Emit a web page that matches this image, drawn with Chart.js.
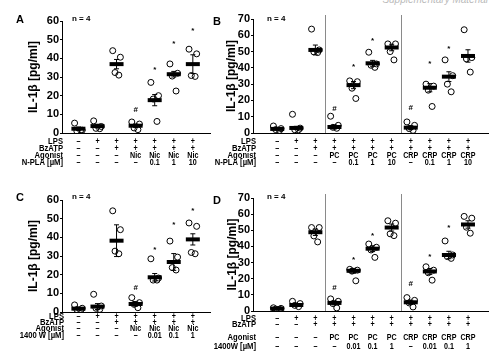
<!DOCTYPE html>
<html lang="en">
<head>
<meta charset="UTF-8">
<title>IL-1beta release</title>
<script src="https://cdn.jsdelivr.net/npm/chart.js"></script>
<style>
  body { margin: 0; background: #fff; font-family: "Liberation Sans", Arial, sans-serif; }
  #wrap { position: relative; width: 500px; height: 363px; overflow: hidden; }
  canvas { position: absolute; }
  .letter { position: absolute; font-weight: bold; font-size: 11px; }
  .n { position: absolute; font-size: 8px; font-weight: bold; }
  #supp { position: absolute; right: 12px; top: -6px; font-size: 10px; font-style: italic; color: #bbb; }
</style>
</head>
<body>
<div id="wrap">
  <div id="supp">Supplementary Material</div>
  <canvas id="chartA" width="250" height="180" style="left:0;top:0"></canvas>
  <canvas id="chartB" width="295" height="180" style="left:205px;top:0"></canvas>
  <canvas id="chartC" width="250" height="183" style="left:0;top:180px"></canvas>
  <canvas id="chartD" width="295" height="183" style="left:205px;top:180px"></canvas>
  <div class="letter" style="left:16px;top:13px">A</div>
  <div class="letter" style="left:213px;top:15px">B</div>
  <div class="letter" style="left:16px;top:191px">C</div>
  <div class="letter" style="left:213px;top:194px">D</div>
  <div class="n" style="left:72px;top:14px">n = 4</div>
  <div class="n" style="left:267px;top:14px">n = 4</div>
  <div class="n" style="left:72px;top:192px">n = 4</div>
  <div class="n" style="left:267px;top:192px">n = 4</div>
</div>
<script>
  // ---- panel A ----
  const rowsA = ['LPS', 'BzATP', 'Agonist', 'N-PLA [µM]'];
  const tableA = [
    ['–', '+', '+', '+', '+', '+', '+'],
    ['–', '–', '+', '+', '+', '+', '+'],
    ['–', '–', '–', 'Nic', 'Nic', 'Nic', 'Nic'],
    ['–', '–', '–', '–', '0.1', '1', '10']
  ];
  const meansA = [2.3, 3.7, 36.9, 3.9, 17.6, 31.5, 36.9];
  const errorsA = [0.9, 1.0, 2.5, 0.9, 3.0, 1.5, 5.0];
  const pointsA = [
    [5.3, 1.5, 1.0, 1.5], [6.5, 3.5, 2.5, 2.3], [44.1, 40.6, 32.4, 31.0],
    [5.9, 4.8, 2.7, 1.8], [27.1, 20.0, 18.2, 6.2], [37.0, 32.0, 30.5, 22.5],
    [44.9, 42.4, 30.8, 30.3]
  ];
  const marksA = [null, null, null, ['#', 12.5], ['*', 33.8], ['*', 47.7], ['*', 54.7]];

  // ---- panel B ----
  const rowsB = ['LPS', 'BzATP', 'Agonist', 'N-PLA [µM]'];
  const tableB = [
    ['–', '+', '+', '+', '+', '+', '+', '+', '+', '+', '+'],
    ['–', '–', '+', '+', '+', '+', '+', '+', '+', '+', '+'],
    ['–', '–', '–', 'PC', 'PC', 'PC', 'PC', 'CRP', 'CRP', 'CRP', 'CRP'],
    ['–', '–', '–', '–', '0.1', '1', '10', '–', '0.1', '1', '10']
  ];
  const meansB = [2.5, 3.1, 51.0, 3.7, 29.4, 42.8, 52.5, 3.3, 27.8, 34.6, 47.3];
  const errorsB = [0.6, 1.0, 3.0, 1.2, 2.2, 1.8, 2.0, 1.2, 2.5, 3.0, 3.8];
  const pointsB = [
    [4.3, 2.7, 2.1, 1.6], [11.5, 3.0, 2.0, 2.0], [63.8, 51.0, 49.8, 49.4],
    [10.3, 4.7, 3.5, 2.9], [32.0, 31.5, 27.5, 21.2], [49.6, 42.4, 41.6, 40.3],
    [54.7, 54.7, 50.0, 44.9], [6.8, 4.7, 2.7, 1.6], [30.0, 28.8, 26.3, 16.3],
    [44.9, 35.2, 30.0, 25.3], [63.4, 46.3, 45.5, 37.4]
  ];
  const marksB = [null, null, null, ['#', 14.8], ['*', 40.7], ['*', 56.8], null,
    ['#', 15.4], ['*', 42.4], ['*', 51.4], null];

  // ---- panel C ----
  const rowsC = ['LPS', 'BzATP', 'Agonist', '1400 W [µM]'];
  const tableC = [
    ['–', '+', '+', '+', '+', '+', '+'],
    ['–', '–', '+', '+', '+', '+', '+'],
    ['–', '–', '–', 'Nic', 'Nic', 'Nic', 'Nic'],
    ['–', '–', '–', '–', '0.01', '0.1', '1']
  ];
  const meansC = [1.8, 2.9, 38.2, 4.3, 18.6, 26.8, 38.9];
  const errorsC = [0.7, 1.6, 8.5, 1.2, 2.0, 4.5, 3.0];
  const pointsC = [
    [3.8, 2.0, 1.3, 0.9], [9.5, 3.2, 2.0, 1.4], [54.2, 44.1, 32.6, 31.2],
    [7.7, 5.0, 4.1, 2.3], [28.5, 18.2, 17.1, 17.1], [38.0, 29.4, 23.8, 22.5],
    [47.7, 45.9, 31.9, 31.2]
  ];
  const marksC = [null, null, null, ['#', 12.8], ['*', 33.3], ['*', 46.8], ['*', 54.2]];

  // ---- panel D ----
  const rowsD = ['LPS', 'BzATP', 'Agonist', '1400W [µM]'];
  const tableD = [
    ['–', '+', '+', '+', '+', '+', '+', '+', '+', '+', '+'],
    ['–', '–', '+', '+', '+', '+', '+', '+', '+', '+', '+'],
    ['–', '–', '–', 'PC', 'PC', 'PC', 'PC', 'CRP', 'CRP', 'CRP', 'CRP'],
    ['–', '–', '–', '–', '0.01', '0.1', '1', '–', '0.01', '0.1', '1']
  ];
  const meansD = [1.5, 3.7, 48.8, 5.0, 24.9, 38.6, 51.7, 5.4, 24.5, 34.7, 53.6];
  const errorsD = [0.3, 0.7, 2.0, 1.2, 1.5, 1.8, 2.2, 1.3, 1.8, 2.3, 2.3];
  const pointsD = [
    [2.0, 1.6, 1.2, 1.0], [6.0, 4.6, 3.5, 2.7], [51.7, 51.7, 46.5, 42.8],
    [7.5, 6.0, 4.6, 1.9], [25.8, 25.3, 24.7, 18.7], [41.5, 39.5, 37.8, 33.2],
    [55.9, 54.4, 47.8, 46.7], [8.3, 6.6, 5.0, 2.5], [27.4, 25.3, 23.7, 19.1],
    [43.4, 34.7, 33.7, 32.6], [58.6, 57.5, 51.9, 48.2]
  ];
  const marksD = [null, null, null, ['#', 14.5], ['*', 32.0], ['*', 46.7], null,
    ['#', 16.6], ['*', 33.7], ['*', 51.7], null];

  const FONT = '"Liberation Sans", Arial, sans-serif';
  const jitter = [-0.2, 0.2, -0.08, 0.12];

  // squeeze glyphs horizontally a little, like the condensed labels of the figure
  function narrowText(ctx, text, x, y, k) {
    const w = ctx.measureText(text).width;
    ctx.fillText(text, x, y, w * k);
  }

  function buildChart(id, p) {
    const circles = [];
    p.points.forEach((vals, i) => vals.forEach((v, k) => circles.push({ x: i + 1 + jitter[k], y: v })));
    const means = p.means.map((m, i) => ({ x: i + 1, y: m }));
    const errLine = [];
    const caps = [];
    p.means.forEach((m, i) => {
      errLine.push({ x: i + 1, y: m - p.errors[i] }, { x: i + 1, y: m + p.errors[i] }, { x: i + 1, y: null });
      caps.push({ x: i + 1, y: m - p.errors[i] }, { x: i + 1, y: m + p.errors[i] });
    });

    const extras = {
      id: 'extras',
      afterDraw(chart) {
        const { ctx, chartArea } = chart;
        const xs = chart.scales.x, ys = chart.scales.y;
        ctx.save();
        // separators between groups
        ctx.strokeStyle = '#8a8a8a';
        ctx.lineWidth = 1;
        (p.separators || []).forEach(v => {
          const px = Math.round(xs.getPixelForValue(v)) + 0.5;
          ctx.beginPath();
          ctx.moveTo(px, chartArea.top - 4);
          ctx.lineTo(px, chartArea.bottom);
          ctx.stroke();
        });
        // significance marks
        ctx.fillStyle = '#000';
        ctx.textAlign = 'center';
        ctx.textBaseline = 'middle';
        ctx.font = 'bold 8px ' + FONT;
        p.marks.forEach((mk, i) => {
          if (!mk) return;
          ctx.fillText(mk[0], xs.getPixelForValue(i + 1), ys.getPixelForValue(mk[1]));
        });
        // treatment table
        ctx.font = 'bold 8.5px ' + FONT;
        p.rows.forEach((name, r) => {
          const y = chartArea.bottom + p.rowOff[r];
          ctx.textAlign = 'right';
          narrowText(ctx, name, chartArea.left + p.headDx, y, 0.9);
          ctx.textAlign = 'center';
          p.table[r].forEach((cell, i) => narrowText(ctx, cell, xs.getPixelForValue(i + 1), y, 0.84));
        });
        ctx.restore();
      }
    };

    return new Chart(document.getElementById(id), {
      data: {
        datasets: [
          { type: 'scatter', data: means, pointStyle: 'line', pointRadius: 7, borderWidth: 4,
            borderColor: '#000', pointHoverRadius: 7 },
          { type: 'scatter', data: circles, pointStyle: 'circle', pointRadius: 3, borderWidth: 1,
            borderColor: '#000', backgroundColor: 'rgba(0,0,0,0)' },
          { type: 'scatter', data: caps, pointStyle: 'line', pointRadius: 2.5, borderWidth: 1,
            borderColor: '#000' },
          { type: 'line', data: errLine, showLine: true, spanGaps: false, pointRadius: 0,
            borderColor: '#000', borderWidth: 1 }
        ]
      },
      options: {
        responsive: false,
        animation: false,
        events: [],
        layout: { padding: { top: p.padTop, right: p.padRight, left: 0, bottom: 0 } },
        plugins: { legend: { display: false }, tooltip: { enabled: false } },
        scales: {
          x: {
            type: 'linear', min: p.xMin, max: p.xMax,
            ticks: { display: false },
            grid: { display: false },
            border: { display: true, color: '#000', width: 1 },
            afterFit: s => { s.height = p.xHeight; }
          },
          y: {
            min: 0, max: p.yMax,
            ticks: { stepSize: 10, autoSkip: false, color: '#000', padding: 1,
              font: { family: FONT, size: 11, weight: 'bold' } },
            grid: { display: true, drawOnChartArea: false, drawTicks: true, tickLength: 2, color: '#000' },
            border: { display: true, color: '#000', width: 1 },
            title: { display: true, text: 'IL-1β [pg/ml]', color: '#000',
              font: { family: FONT, size: 12, weight: 'bold' }, padding: { top: p.titlePad, bottom: 0 } },
            afterFit: s => { s.width = p.yWidth; }
          }
        }
      },
      plugins: [extras]
    });
  }

  buildChart('chartA', {
    rows: rowsA, table: tableA, means: meansA, errors: errorsA, points: pointsA, marks: marksA,
    yMax: 60, xMin: 0.14, xMax: 7.9, padTop: 21, padRight: 40, yWidth: 62, xHeight: 47,
    titlePad: 26, rowOff: [9, 15.5, 22.5, 29.5], headDx: 1
  });
  buildChart('chartB', {
    rows: rowsB, table: tableB, means: meansB, errors: errorsB, points: pointsB, marks: marksB,
    yMax: 70, xMin: -0.27, xMax: 12.05, padTop: 19, padRight: 12, yWidth: 48, xHeight: 47,
    titlePad: 19, rowOff: [9, 15.5, 22.5, 29.5], headDx: 3, separators: [3.5, 7.5]
  });
  buildChart('chartC', {
    rows: rowsC, table: tableC, means: meansC, errors: errorsC, points: pointsC, marks: marksC,
    yMax: 60, xMin: 0.14, xMax: 7.9, padTop: 20, padRight: 40, yWidth: 62, xHeight: 51,
    titlePad: 26, rowOff: [5, 11, 17, 23.5], headDx: 2
  });
  buildChart('chartD', {
    rows: rowsD, table: tableD, means: meansD, errors: errorsD, points: pointsD, marks: marksD,
    yMax: 70, xMin: -0.27, xMax: 12.05, padTop: 18, padRight: 12, yWidth: 48, xHeight: 52,
    titlePad: 20, rowOff: [8, 14, 26.5, 35.5], headDx: 3, separators: [3.5, 7.5]
  });
</script>
</body>
</html>
